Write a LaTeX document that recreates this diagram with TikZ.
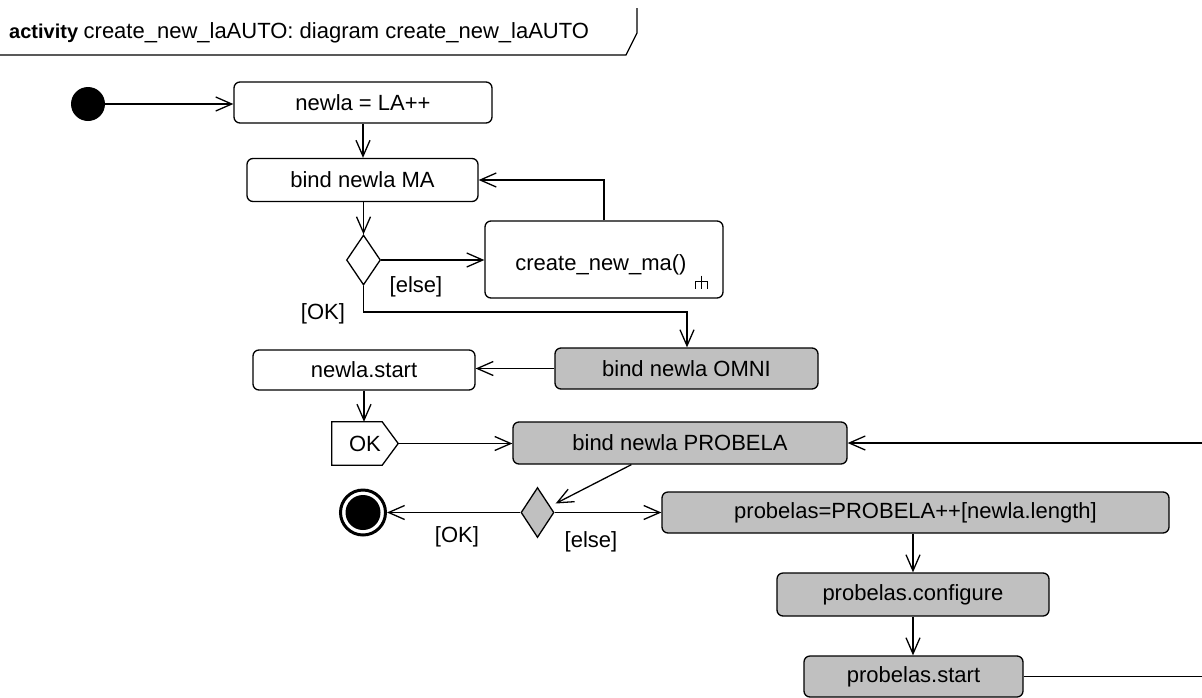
\documentclass[tikz,border=0pt]{standalone}
\usepackage{fontspec}
\setmainfont{Liberation Sans}
\usetikzlibrary{arrows.meta,shapes.geometric,calc}
\definecolor{actgray}{RGB}{192,192,192}
\begin{document}
\begin{tikzpicture}[x=1pt,y=-1pt,
  lw/.style={line width=1.3pt},
  txt/.style={font=\fontsize{22}{26}\selectfont},
  act/.style={draw, lw, rounded corners=6pt, inner sep=0pt, txt, minimum height=41pt},
  actg/.style={act, fill=actgray},
  dec/.style={diamond, draw, lw, inner sep=0pt, minimum width=34pt, minimum height=50pt},
  arr/.style={lw, -{Straight Barb[length=16pt,width=14pt]}},
  lbl/.style={txt, inner sep=0pt},
]
\useasboundingbox (0,0) rectangle (1202,697);
\clip (0,0) rectangle (1202,697);

% title tab
\node[anchor=base west, inner sep=0pt] (title) at (9,38)
  {\fontsize{20}{24}\selectfont\bfseries activity\ \fontsize{22}{26}\selectfont\mdseries create\_new\_laAUTO: diagram create\_new\_laAUTO};
\draw[lw] (0,55) -- (626,55) -- (637,33) -- (637,8);

% nodes
\node[circle, fill=black, minimum size=34pt, inner sep=0pt] (init) at (88,104) {};
\node[act, minimum width=258pt] (n1) at (363,102.5) {newla = LA++};
\node[act, minimum width=231pt, minimum height=43pt] (n2) at (362.5,180) {bind newla MA};
\node[dec] (d1) at (363.5,260) {};
\node[act, minimum width=238pt, minimum height=77pt] (cma) at (604,259.5) {};
\node[lbl] (cmat) at (601,265) {create\_new\_ma()};
\begin{scope}[shift={(cma.south east)}]
  \draw[lw] (-22,-23) -- (-22,-10);
  \draw[lw] (-28,-10) -- (-28,-17) -- (-16,-17) -- (-16,-10);
\end{scope}
\node[actg, minimum width=263pt] (omni) at (686.5,368.5) {bind newla OMNI};
\node[act, minimum width=222pt, minimum height=40pt] (nstart) at (364,370) {newla.start};
\node[lbl, minimum width=66pt, minimum height=43pt] (ok) at (365,443.5) {OK};
\draw[lw] (ok.north west) -- ($(ok.north east)+(-16,0)$) -- (ok.east) -- ($(ok.south east)+(-16,0)$) -- (ok.south west) -- cycle;
\node[actg, minimum width=334pt, minimum height=42pt] (probela) at (680,443) {bind newla PROBELA};
\node[dec, fill=actgray, minimum width=33pt] (d2) at (537.5,512.5) {};
\node[circle, draw, line width=3pt, minimum size=45pt, inner sep=0pt] (fin) at (363,512.5) {};
\fill (fin.center) circle (17.5);
\node[actg, minimum width=507pt] (pbl) at (915.5,512.5) {probelas=PROBELA++[newla.length]};
\node[actg, minimum width=272pt, minimum height=43pt] (pconf) at (913,594.5) {probelas.configure};
\node[actg, minimum width=219pt] (pstart) at (913.5,676.5) {probelas.start};

% helper coordinates
\coordinate (k1) at (687,312);
\coordinate (loopx) at (1215,0);

% connectors
\draw[arr] (init.east) -- (init.east -| n1.west);
\draw[arr] (n1.south) -- (n1.south |- n2.north);
\draw[arr] (d1.north |- n2.south) -- (d1.north);
\draw[arr] (d1.east) -- (d1.east -| cma.west);
\node[lbl] (l1) at (416,287) {[else]};
\draw[arr] (cma.north) |- (n2.east);
\draw[arr] (d1.south) |- (k1) -- (k1 |- omni.north);
\node[lbl] (l2) at (323,314) {[OK]};
\draw[arr] (omni.west) -- (omni.west -| nstart.east);
\draw[arr] (nstart.south) -- (nstart.south |- ok.north);
\draw[arr] (ok.east) -- (ok.east -| probela.west);
\draw[arr] ($(probela.south west)+(119,0)$) -- ($(d2.east)+(1,-9)$);
\draw[arr] (d2.west) -- (fin.east);
\node[lbl] (l3) at (457,537) {[OK]};
\draw[arr] (d2.east) -- (d2.east -| pbl.west);
\node[lbl] (l4) at (591,542) {[else]};
\draw[arr] (pconf.north |- pbl.south) -- (pconf.north);
\draw[arr] (pconf.south) -- (pconf.south |- pstart.north);
\draw[arr] (pstart.east) -- (pstart.east -| loopx) -- (probela.east -| loopx) -- (probela.east);
\end{tikzpicture}
\end{document}
